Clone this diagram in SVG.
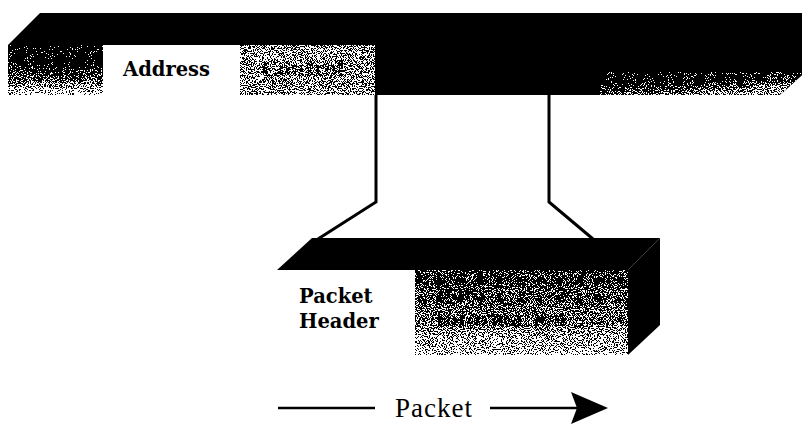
<svg xmlns="http://www.w3.org/2000/svg" width="802" height="424" viewBox="0 0 802 424">
<defs>
<style>
.lbl{font-family:"DejaVu Serif","Liberation Serif",serif;font-weight:bold;font-size:19.5px;}
.conn{fill:none;stroke:#000;stroke-width:3;stroke-linejoin:miter}
.solid{fill:#000}
.cap{font-family:"Liberation Serif","DejaVu Serif",serif;font-size:27px;fill:#000}
</style>
<filter id="dither" x="0" y="0" width="1" height="1" color-interpolation-filters="sRGB">
  <feTurbulence type="fractalNoise" baseFrequency="0.95" numOctaves="2" seed="7" result="noise"/>
  <feColorMatrix in="noise" type="matrix" values="1 0 0 0 0 1 0 0 0 0 1 0 0 0 0 0 0 0 0 1" result="gn"/>
  <feComposite in="SourceGraphic" in2="gn" operator="arithmetic" k1="0" k2="1" k3="2.6" k4="-1.3" result="sum"/>
  <feComponentTransfer in="sum" result="bw">
    <feFuncR type="discrete" tableValues="0 1"/>
    <feFuncG type="discrete" tableValues="0 1"/>
    <feFuncB type="discrete" tableValues="0 1"/>
  </feComponentTransfer>
  <feComposite in="bw" in2="SourceGraphic" operator="in"/>
</filter>
<linearGradient id="gFlag" x1="0" y1="0" x2="0" y2="1">
  <stop offset="0" stop-color="#000"/>
  <stop offset="0.45" stop-color="#151515"/>
  <stop offset="1" stop-color="#d0d0d0"/>
</linearGradient>
<linearGradient id="gRight" x1="0" y1="0" x2="0.7" y2="1">
  <stop offset="0" stop-color="#000"/>
  <stop offset="0.55" stop-color="#303030"/>
  <stop offset="1" stop-color="#a0a0a0"/>
</linearGradient>
<linearGradient id="gData" x1="0" y1="0" x2="0" y2="1">
  <stop offset="0" stop-color="#3a3a3a"/>
  <stop offset="0.55" stop-color="#6a6a6a"/>
  <stop offset="1" stop-color="#b8b8b8"/>
</linearGradient>
</defs>
<rect x="0" y="0" width="802" height="424" fill="#fff"/>

<g id="frame">
  <polygon class="solid" points="8,45 40,13 802,13 802,75 780,95 8,95"/>
  <g filter="url(#dither)">
    <rect x="8" y="45" width="95" height="50" fill="url(#gFlag)"/>
    <text class="lbl" x="30" y="76" fill="#000">Flag</text>
  </g>
  <rect x="103" y="45" width="137" height="50" fill="#fff"/>
  <text class="lbl" x="123" y="76" fill="#000">Address</text>
  <g filter="url(#dither)">
    <rect x="240" y="45" width="135" height="50" fill="#8a8a8a"/>
    <text class="lbl" x="262" y="76" fill="#3a3a3a">Control</text>
  </g>
  <g filter="url(#dither)">
    <polygon points="600,72 802,72 802,75 780,95 600,95" fill="url(#gRight)"/>
  </g>
</g>

<g id="connectors">
  <polyline class="conn" points="376,95 376,202 318,239"/>
  <polyline class="conn" points="549,95 549,202 593,239"/>
</g>

<g id="packet">
  <polygon class="solid" points="312,238 660,238 628,270 277,270"/>
  <polygon class="solid" points="628,270 660,238 660,325 628,355"/>
  <text class="lbl" x="299" y="303" fill="#000">Packet</text>
  <text class="lbl" x="299" y="328" fill="#000">Header</text>
  <g filter="url(#dither)">
    <rect x="415" y="270" width="213" height="85" fill="url(#gData)"/>
    <text class="lbl" x="435" y="300" fill="#2a2a2a">Data</text>
    <text class="lbl" x="435" y="326" fill="#2a2a2a">Information</text>
  </g>
</g>

<g id="arrow">
  <line x1="278" y1="408" x2="375" y2="408" stroke="#000" stroke-width="2.5"/>
  <text class="cap" x="395" y="417" letter-spacing="1">Packet</text>
  <line x1="490" y1="408" x2="580" y2="408" stroke="#000" stroke-width="2.5"/>
  <polygon class="solid" points="571,392 608,408 571,424 577,408"/>
</g>
</svg>
